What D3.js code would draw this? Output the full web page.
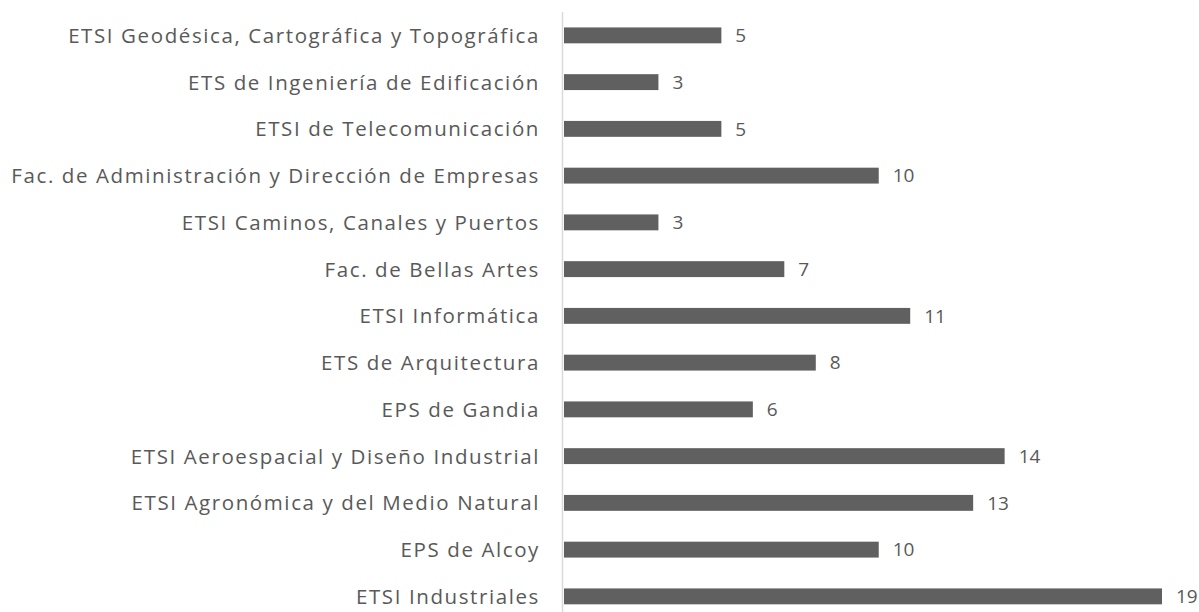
<!DOCTYPE html>
<html lang="es">
<head>
  <meta charset="UTF-8">
  <title>Escuelas y facultades</title>
  <script src="https://cdn.jsdelivr.net/npm/d3@7/dist/d3.min.js"></script>
  <style>
    body { margin: 0; background: #fff; }
    svg { display: block; }
    text { font-family: 'Open Sans', sans-serif; fill: #595959; }
  </style>
</head>
<body>
  <svg id="chart"></svg>
  <script>
    const categories = [
      "ETSI Geodésica, Cartográfica y Topográfica",
      "ETS de Ingeniería de Edificación",
      "ETSI de Telecomunicación",
      "Fac. de Administración y Dirección de Empresas",
      "ETSI Caminos, Canales y Puertos",
      "Fac. de Bellas Artes",
      "ETSI Informática",
      "ETS de Arquitectura",
      "EPS de Gandia",
      "ETSI Aeroespacial y Diseño Industrial",
      "ETSI Agronómica y del Medio Natural",
      "EPS de Alcoy",
      "ETSI Industriales"
    ];
    const values = [5, 3, 5, 10, 3, 7, 11, 8, 6, 14, 13, 10, 19];

    const width = 1199, height = 612;
    const x0 = 564;

    const svg = d3.select("#chart").attr("width", width).attr("height", height);

    const x = d3.scaleLinear().domain([0, 19]).range([x0, 1162]);
    const y = d3.scaleBand().domain(categories).range([12, 12 + 13 * 46.75]).paddingInner(0.66).paddingOuter(0.33);

    svg.selectAll("rect.bar")
      .data(values)
      .join("rect")
      .attr("class", "bar")
      .attr("x", x(0))
      .attr("y", (d, i) => y(categories[i]))
      .attr("width", d => x(d) - x(0))
      .attr("height", y.bandwidth())
      .attr("fill", "#606060");

    svg.append("line")
      .attr("x1", x0 - 1.5).attr("x2", x0 - 1.5)
      .attr("y1", 12).attr("y2", height)
      .attr("stroke", "#d9d9d9").attr("stroke-width", 1.5);

    svg.selectAll("text.cat")
      .data(categories)
      .join("text")
      .attr("class", "cat")
      .attr("x", 540)
      .attr("y", d => y(d) + y.bandwidth() / 2)
      .attr("dy", "0.36em")
      .attr("text-anchor", "end")
      .style("font-size", "20.5px")
      .style("letter-spacing", "1.6px")
      .text(d => d);

    svg.selectAll("text.val")
      .data(values)
      .join("text")
      .attr("class", "val")
      .attr("x", d => x(d) + 14)
      .attr("y", (d, i) => y(categories[i]) + y.bandwidth() / 2)
      .attr("dy", "0.36em")
      .style("font-size", "19px")
      .text(d => d);
  </script>
</body>
</html>
